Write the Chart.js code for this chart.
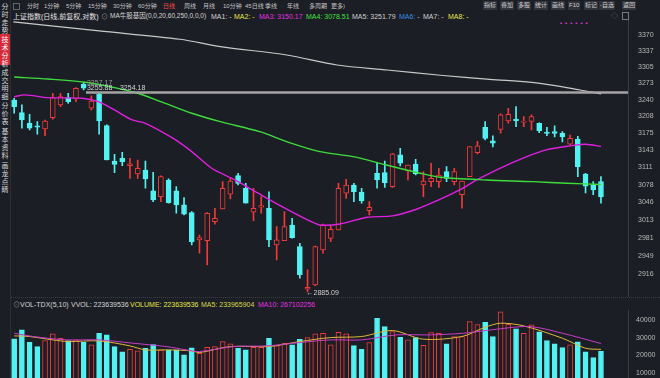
<!DOCTYPE html>
<html><head><meta charset="utf-8">
<script src="https://cdn.jsdelivr.net/npm/chart.js@4"></script>
<style>
html,body{margin:0;padding:0;width:660px;height:378px;overflow:hidden;background:#1c1e25;font-family:"Liberation Sans","Noto Sans CJK SC",sans-serif;}
.t{position:absolute;white-space:nowrap;line-height:1;}
.r1{top:3px;font-size:6px;color:#c4c4c4;}
.r2{top:13px;font-size:7px;color:#d4d4d4;}
.btn{top:1px;font-size:6px;color:#d0d0d0;background:#30333b;padding:1px 1px 2px 1px;}
.vh{top:301px;font-size:7px;color:#d4d4d4;}
.side{position:absolute;left:0;width:10px;font-size:7px;line-height:8px;color:#d8d8d8;text-align:center;font-family:"Noto Sans CJK SC";}
#main{position:absolute;left:0;top:0;}
#vol{position:absolute;left:0;top:298px;}
</style></head><body>
<!-- toolbar -->
<div class="t" style="left:13px;top:3px;width:5px;height:5px;border:1px solid #666;"></div>
<span class="t r1" style="left:27px">分时</span>
<span class="t r1" style="left:44px">1分钟</span>
<span class="t r1" style="left:66px">5分钟</span>
<span class="t r1" style="left:88px">15分钟</span>
<span class="t r1" style="left:113px">30分钟</span>
<span class="t r1" style="left:138px">60分钟</span>
<span class="t r1" style="left:163px;color:#ff4a4a">日线</span>
<span class="t r1" style="left:184px">周线</span>
<span class="t r1" style="left:203px">月线</span>
<span class="t r1" style="left:223px">10分钟</span>
<span class="t r1" style="left:245px">45日线</span>
<span class="t r1" style="left:265px">季线</span>
<span class="t r1" style="left:287px">年线</span>
<span class="t r1" style="left:309px">多周期</span>
<span class="t r1" style="left:331px">更多)</span>
<span class="t btn" style="left:483px">指标</span>
<span class="t btn" style="left:500px">叠加</span>
<span class="t btn" style="left:517px">多股</span>
<span class="t btn" style="left:534px">统计</span>
<span class="t btn" style="left:551px">画线</span>
<span class="t btn" style="left:568px">F10</span>
<span class="t btn" style="left:584px">标记</span>
<span class="t btn" style="left:599px">-自选</span>
<span class="t btn" style="left:622px">返回</span>
<!-- indicator line -->
<span class="t r2" style="left:13px;color:#e6e6e6">上证指数(日线,前复权,对数)</span>
<span class="t r2" style="left:101px;color:#8a8a8a">⊙</span>
<span class="t r2" style="left:110px;font-size:6.5px">MA牛股基因(0,0,20,60,250,0,0,0)</span>
<span class="t r2" style="left:211px">MA1: -</span>
<span class="t r2" style="left:234px;color:#e6e64a">MA2: -</span>
<span class="t r2" style="left:259px;color:#e030e0">MA3: 3150.17</span>
<span class="t r2" style="left:306px;color:#40e040">MA4: 3078.51</span>
<span class="t r2" style="left:352px;color:#cfcfcf">MA5: 3251.79</span>
<span class="t r2" style="left:399px;color:#3a8ee8">MA6: <span style="color:#d4d4d4">-</span></span>
<span class="t r2" style="left:423px">MA7: -</span>
<span class="t r2" style="left:448px;color:#e6e64a">MA8: -</span>
<span class="t" style="left:611px;top:12px;font-size:7px;color:#777">◇</span>
<span class="t" style="left:622px;top:12px;width:5px;height:6px;border:1px solid #777"></span>
<span class="t" style="left:560px;top:20px;font-size:6px;color:#e040e0;letter-spacing:3px">••••••</span>
<!-- sidebar -->
<div class="t" style="left:10px;top:0;width:1px;height:378px;background:#2c2f36"></div>
<div class="side" style="top:2px;height:32px;">分<br>时<br>走<br>势</div>
<div class="side" style="top:34px;height:30px;padding-top:1px;background:#d42a3a;color:#fff">技<br>术<br>分<br>析</div>
<div class="side" style="top:68px;">成<br>交<br>明<br>细</div>
<div class="side" style="top:101px;">分<br>价<br>表</div>
<div class="side" style="top:127px;">基<br>本<br>资<br>料</div>
<div class="side" style="top:161px;">画<br>龙<br>点<br>睛</div>
<!-- volume header -->
<div class="t" style="left:11px;top:297px;width:649px;height:0;border-top:1px dotted #3a3d44"></div>
<span class="t vh" style="left:13px;color:#8a8a8a">⊙</span>
<span class="t vh" style="left:20px">VOL-TDX(5,10)</span>
<span class="t vh" style="left:71px">VVOL: 223639536</span>
<span class="t vh" style="left:130px;color:#e6e64a">VOLUME: 223639536</span>
<span class="t vh" style="left:201px;color:#d8d84a">MA5: 233965904</span>
<span class="t vh" style="left:258px;color:#e030e0">MA10: 267102256</span>

<canvas id="main" width="660" height="300"></canvas>
<canvas id="vol" width="660" height="100"></canvas>
<script>
const BG = '#1c1e25', RED = '#f03a3a', CYAN = '#52f2f2';

// daily candles, oldest -> newest
const opens  = [3239.7,3214.9,3194.4,3189.3,3183.5,3205.3,3230.0,3244.2,3241.6,3270.6,
                3223.5,3250.9,3189.9,3122.5,3127.6,3113.5,3098.0,3105.6,3066.5,3056.0,
                3086.9,3066.5,3040.7,3026.6,2977.1,2975.9,3010.3,3033.3,3060.5,3094.9,
                3071.5,3027.4,3036.7,3034.6,2968.0,2975.9,3004.1,2965.0,2890.0,2897.3,
                2959.2,2980.0,2995.1,3062.3,3077.6,3064.2,3030.2,3099.4,3100.6,3074.4,
                3133.9,3104.3,3116.8,3077.6,3083.8,3083.8,3102.4,3083.8,3059.7,3093.0,
                3138.4,3186.6,3160.9,3182.8,3198.9,3202.7,3196.7,3198.0,3194.4,3177.7,
                3178.3,3175.1,3154.6,3163.7,3098.0,3077.6,3083.8];
const highs  = [3243.0,3230.0,3211.8,3197.5,3200.8,3252.9,3252.9,3252.9,3264.0,3274.6,
                3248.0,3253.7,3191.2,3135.1,3139.0,3127.6,3124.4,3122.5,3101.3,3094.4,
                3088.8,3074.5,3054.1,3028.4,2986.0,3026.6,3034.6,3083.8,3090.0,3099.4,
                3080.7,3071.5,3056.0,3064.9,3001.0,3028.4,3016.3,2971.0,2923.7,2966.0,
                3005.9,3004.1,3080.7,3088.2,3080.7,3071.5,3046.8,3118.3,3122.5,3137.0,
                3146.4,3115.0,3125.7,3102.4,3118.3,3108.8,3111.8,3108.8,3084.9,3149.6,
                3159.9,3197.5,3170.5,3212.6,3223.5,3226.6,3207.3,3210.7,3195.5,3186.6,
                3189.3,3178.3,3171.9,3169.2,3099.4,3083.8,3093.0];
const lows   = [3213.8,3184.8,3181.5,3173.3,3170.6,3202.2,3226.6,3232.8,3236.4,3259.3,
                3220.2,3173.3,3124.4,3100.6,3113.5,3090.0,3090.0,3071.5,3046.8,3046.8,
                3043.8,3025.5,3022.4,2968.0,2953.3,2932.6,3005.5,3033.3,3051.7,3077.6,
                3043.8,3012.0,3025.5,2965.0,2941.4,2975.9,2980.1,2909.1,2885.09,2896.0,
                2953.3,2974.1,2995.1,3052.9,3046.8,3043.8,3022.4,3071.5,3073.0,3073.0,
                3113.0,3086.9,3096.2,3056.0,3074.4,3073.0,3083.8,3077.6,3034.6,3093.0,
                3136.0,3162.4,3148.9,3175.3,3194.5,3187.9,3187.9,3181.5,3176.4,3170.6,
                3168.0,3158.5,3153.0,3093.0,3062.7,3059.7,3043.8];
const closes = [3226.6,3200.8,3184.8,3186.8,3198.9,3244.2,3246.2,3236.4,3262.7,3262.7,
                3237.7,3198.9,3124.6,3116.2,3121.1,3117.3,3108.8,3088.8,3049.9,3093.0,
                3045.0,3040.7,3023.6,2974.1,2981.3,3025.5,3016.3,3071.5,3085.0,3080.7,
                3043.8,3034.6,3039.4,2977.1,2977.1,3001.0,2981.3,2915.3,2893.0,2965.0,
                3004.1,2996.3,3071.5,3077.6,3065.3,3048.0,3036.3,3086.9,3082.0,3135.9,
                3118.3,3115.0,3098.0,3085.0,3090.0,3096.2,3090.0,3102.4,3084.9,3149.6,
                3151.0,3165.5,3156.5,3210.7,3211.5,3198.9,3197.5,3207.3,3180.2,3175.1,
                3175.1,3168.0,3165.5,3111.8,3075.4,3068.4,3055.3];
// volume (万)
const volumes = [29300,34400,27440,25000,28380,32130,29690,28380,28750,27440,
                 25940,32500,31560,25000,22000,23500,22560,24060,26120,23120,
                 23120,23120,20310,24250,21250,24620,25000,27810,26500,24060,
                 23120,24620,24620,29690,25560,26880,25940,29120,30060,32130,
                 32500,25940,33060,32130,25560,23500,27250,40940,36250,33440,
                 30250,28750,30060,25750,32880,32500,26500,30630,30630,39060,
                 37380,38690,30630,44500,37560,34940,32500,37190,33250,28380,
                 26500,24440,25940,27630,22000,18810,22364];
// moving-average curves: [candle index, value]
const ma20 = [[0,3246],[1.4,3249.6],[4.4,3244.2],[8.8,3243],[10.9,3236.4],[13,3220.2],[15.3,3200.8],[17,3194.4],
              [20.5,3166.2],[23,3140.2],[25.6,3108.8],[28.6,3086.9],[31.6,3062.3],[34.7,3037.6],[38,3013.3],
              [39.6,3004.2],[42.2,3006],[45.7,3018.2],[49,3020.6],[52.1,3032.8],[55.2,3051.2],[57.7,3068.4],
              [59.9,3086.9],[62.9,3108.8],[66.4,3130.7],[68.9,3143.4],[72.3,3151.6],[74,3154.3],[76,3150.17]];
const ma60 = [[0,3285],[4.4,3281],[9.2,3274.6],[13,3264],[16,3252.9],[19,3236.4],[23,3213.8],[26.7,3197.5],
              [31.8,3178.3],[35.3,3159.2],[39.6,3140.2],[43.9,3130.7],[48.2,3115],[52.6,3099.4],[55.2,3092],
              [61.2,3086.9],[67.2,3083.8],[71.6,3080.7],[76,3078.51]];
const ma250 = [[-0.1,3396],[11,3377.6],[21.5,3360.7],[26.7,3345.7],[35.3,3328.9],[41.8,3308.9],[48.3,3298.9],
               [55.2,3288.4],[61.6,3280.4],[68.1,3272.5],[73.3,3259.3],[76,3251.79]];
const volMa5 = [[0,31000],[2,30630],[5,28750],[7,27810],[11,28190],[15,25370],[17,23120],[20,23120],[23,22560],
                [24,21625],[28,25000],[33,25000],[37,27810],[41,30060],[45,30630],[49,34000],[53,29125],[58,30630],
                [61,35875],[63,38125],[66,36625],[71,29690],[74,24060],[76,23397]];
const volMa10 = [[0,32500],[2.5,30630],[6.8,28750],[11,28750],[15.4,26880],[19.7,25000],[22.3,23120],[24,22190],
                 [28.4,25000],[32.7,25370],[37,27250],[41,28750],[45,28750],[49.5,31560],[53.9,31560],[58.2,32500],
                 [62.5,34750],[66.8,36250],[71,32500],[76,26710]];
const priceTicks = [2916,2949,2981,3013,3046,3078,3111,3143,3175,3208,3240,3273,3305,3337,3370];
const volTicks = [10000,20000,30000,40000];
const drawnLevel = 3254.18, drawnFrom = 9.3;
const lowIndex = 38;

const idx = closes.map((_, i) => i);
const isUp = i => closes[i] >= opens[i];
const pts = arr => arr.map(([x, y]) => ({x, y}));
const xScale = {type: 'linear', min: -0.5, max: 79.5, display: false, offset: false};
const tickFont = {size: 7, family: 'Liberation Sans'};
const common = {
  responsive: false, animation: false, devicePixelRatio: 1,
  plugins: {legend: {display: false}, tooltip: {enabled: false}},
};
const lineDs = (arr, color, w) => ({type: 'line', data: pts(arr), borderColor: color, borderWidth: w,
  pointRadius: 0, tension: 0.3, order: 0});
const yCommon = {
  position: 'right',
  afterFit: s => { s.width = 32; s.paddingTop = 0; s.paddingBottom = 0; },
  grid: {display: false, drawTicks: false, tickLength: 0},
  border: {display: true, color: '#3a3d44', width: 1}
};

const notes = {
  id: 'notes',
  afterDatasetsDraw(chart) {
    const {ctx, scales: {x, y}} = chart;
    ctx.save();
    ctx.font = '7px "Liberation Sans"';
    ctx.fillStyle = '#cfcfcf';
    ctx.textBaseline = 'middle';
    const lx = x.getPixelForValue(lowIndex), ly = y.getPixelForValue(lows[lowIndex]);
    ctx.fillText('←' + lows[lowIndex].toFixed(2), lx - 1, ly + 1);
    const hx = x.getPixelForValue(drawnFrom), hy = y.getPixelForValue(drawnLevel);
    ctx.fillStyle = '#9a9a9a';
    ctx.fillText('3257.17', hx + 1, hy - 10);
    ctx.fillStyle = '#d6d6d6';
    ctx.fillText('3255.88', hx + 1, hy - 5);
    ctx.fillText(drawnLevel.toFixed(2), hx + 34, hy - 5);
    ctx.restore();
  }
};

new Chart(document.getElementById('main'), {
  type: 'bar',
  data: {datasets: [
    {type: 'line', data: [{x: drawnFrom, y: drawnLevel}, {x: 79.5, y: drawnLevel}], borderColor: '#a4a4a4',
     borderWidth: 2.5, pointRadius: 0, order: 0},
    lineDs(ma250, '#c9c9c9', 1.2),
    lineDs(ma60, '#3cdc3c', 1.4),
    lineDs(ma20, '#e020e0', 1.4),
    {type: 'bar', data: idx.map(i => ({x: i, y: [opens[i], closes[i]]})),
     backgroundColor: c => isUp(c.dataIndex) ? BG : CYAN,
     borderColor: c => isUp(c.dataIndex) ? RED : CYAN,
     borderWidth: 1, borderSkipped: false, barThickness: 5, minBarLength: 1, grouped: false, order: 1},
    {type: 'bar', data: idx.map(i => ({x: i, y: [lows[i], highs[i]]})),
     backgroundColor: c => isUp(c.dataIndex) ? RED : CYAN,
     borderWidth: 0, barThickness: 1, grouped: false, order: 2},
  ]},
  options: Object.assign({}, common, {
    layout: {padding: {left: 10.3, right: 0, top: 20, bottom: 4}},
    scales: {
      x: xScale,
      y: Object.assign({}, yCommon, {type: 'logarithmic', min: 2878, max: 3400,
          afterBuildTicks: s => { s.ticks = priceTicks.map(v => ({value: v})); },
          ticks: {color: '#b8b8b8', font: tickFont, padding: 10, callback: v => String(v)}})
    }
  }),
  plugins: [notes]
});

new Chart(document.getElementById('vol'), {
  type: 'bar',
  data: {datasets: [
    lineDs(volMa10, '#c83cc8', 1),
    lineDs(volMa5, '#e0b83a', 1),
    {type: 'bar', data: idx.map(i => ({x: i, y: volumes[i]})),
     backgroundColor: c => isUp(c.dataIndex) ? BG : CYAN,
     borderColor: c => isUp(c.dataIndex) ? RED : CYAN,
     borderWidth: 1, borderSkipped: false, barThickness: 5, grouped: false, order: 1},
  ]},
  options: Object.assign({}, common, {
    layout: {padding: {left: 10.3, right: 0, top: 12, bottom: 7}},
    scales: {
      x: xScale,
      y: Object.assign({}, yCommon, {type: 'linear', min: 0, max: 45560,
          afterBuildTicks: s => { s.ticks = volTicks.map(v => ({value: v})); },
          ticks: {color: '#b8b8b8', font: tickFont, padding: 8, callback: v => String(v)}})
    }
  })
});
</script>
</body></html>
